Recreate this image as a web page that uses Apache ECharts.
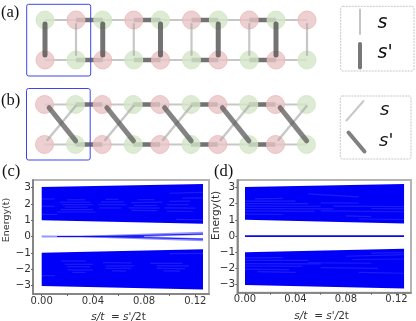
<!DOCTYPE html>
<html><head><meta charset="utf-8">
<style>html,body{margin:0;padding:0;background:#fff}#c{width:416px;height:321px}#c canvas{filter:blur(.4px)}</style>
<script src="https://cdn.jsdelivr.net/npm/echarts@6/dist/echarts.min.js"></script>
</head><body><div id="c"></div>
<script>
// ---- lattice diagrams (lattice units: cell index + site offset)
const cells = [0, 1, 2, 3, 4];
const siteOffset = 0.537;
const RED = '#e9c6c7', GREEN = '#d4e5c9';
const RED_EDGE = '#efb4b4', GREEN_EDGE = '#cfe6bf';
const LIGHT = 'rgba(165,165,165,0.62)', DARK = 'rgba(75,75,75,0.78)', DIAG = 'rgba(85,85,85,0.72)';
// site kinds per unit cell: [left site, right site]
const aTopKinds = ['g', 'r'], aBottomKinds = ['r', 'g'];
const bTopKinds = ['r', 'g'], bBottomKinds = ['r', 'g'];
// vertical bond ends and diagonal bond ends, read in lattice units
const vertEnds = [0.9, 0.125];
const diagDark = [[0.08, 0.92], [0.54, 0.09]];
const diagLight = [[0.05, 0.11], [0.54, 0.96]];

// ---- spectra: rows are [s/t, lower edge, upper edge]
const bandUpper = [[0, 1.0, 3.03], [0.126, 0.78, 3.22]];
const bandLower = [[0, -3.03, -1.0], [0.126, -3.24, -0.78]];
const cMidOuter = [[0, -0.06, 0.06], [0.03, -0.05, 0.05], [0.126, -0.29, 0.29]];
const cMidInnerGap = [[0.085, 0, 0], [0.126, -0.1, 0.1]];
const cMidDark = [[0.012, 0, 0.05, 0.015], [0.05, 0.015, 0.126, 0.15], [0.012, 0, 0.05, -0.015], [0.05, -0.015, 0.126, -0.16], [0.02, 0, 0.08, 0]];
const dMid = [[0, 0], [0.126, 0]];
const xTicks = [0, 0.04, 0.08, 0.12];
const xMinor = [0, 0.02, 0.04, 0.06, 0.08, 0.10, 0.12];
const yTicks = [-3, -2, -1, 0, 1, 2, 3];
// lighter streaks inside the dense bands: [x0, y0, x1, y1]
const cStreaks = [
 [0.012,1.5,0.042,1.5],[0.015,1.65,0.04,1.65],[0.018,1.8,0.036,1.8],[0.016,1.95,0.04,1.95],[0.014,2.1,0.038,2.1],[0.02,2.25,0.034,2.25],
 [0.045,1.75,0.062,1.75],[0.044,1.95,0.066,1.95],[0.046,2.1,0.064,2.12],[0.05,2.27,0.06,2.28],
 [0.07,1.6,0.09,1.58],[0.068,1.75,0.092,1.74],[0.072,1.9,0.09,1.9],[0.07,2.08,0.094,2.1],[0.075,2.25,0.088,2.26],
 [0.098,1.55,0.118,1.53],[0.096,1.75,0.12,1.74],[0.098,1.95,0.115,1.95],[0.1,2.15,0.116,2.17],[0.105,1.05,0.126,1.02],[0.1,2.65,0.126,2.7],[0.11,2.35,0.126,2.37],
 [0.0,1.35,0.012,1.35],[0.0,1.85,0.01,1.85],[0.0,2.3,0.01,2.3],
 [0.015,-1.5,0.035,-1.5],[0.018,-1.7,0.04,-1.7],[0.02,-1.85,0.038,-1.85],[0.02,-2.05,0.04,-2.05],[0.024,-2.2,0.034,-2.2],
 [0.048,-1.6,0.07,-1.62],[0.05,-1.8,0.072,-1.8],[0.05,-1.95,0.07,-1.95],[0.055,-2.1,0.066,-2.12],
 [0.085,-1.65,0.11,-1.65],[0.09,-1.8,0.115,-1.8],[0.09,-1.95,0.112,-1.97],[0.095,-2.1,0.108,-2.12],[0.1,-1.05,0.126,-1.03],[0.0,-2.4,0.01,-2.4]
];
const dStreaks = [
 [0,1.35,0.03,1.33],[0,1.55,0.055,1.52],[0,1.7,0.07,1.68],[0,1.85,0.06,1.84],[0,2.0,0.05,2.0],[0,2.15,0.04,2.16],[0.008,2.3,0.03,2.32],
 [0.05,2.6,0.09,2.42],[0.06,1.55,0.126,1.5],[0.07,1.85,0.126,1.82],[0.08,1.25,0.1,1.2],[0.09,1.05,0.126,1.02],[0.1,1.7,0.126,1.68],[0.06,2.05,0.09,2.04],
 [0,-1.35,0.03,-1.33],[0,-1.5,0.05,-1.5],[0,-1.7,0.06,-1.72],[0,-1.85,0.045,-1.87],[0,-2.05,0.035,-2.07],[0.01,-2.2,0.04,-2.24],
 [0.05,-1.65,0.1,-1.68],[0.06,-1.95,0.105,-2.0],[0.08,-1.25,0.126,-1.15],[0.085,-1.45,0.126,-1.42],[0.09,-2.25,0.126,-2.3],[0.1,-1.05,0.126,-1.02]
];

// ---- builders
const site = (c, i) => c + i * siteOffset;
function nodes(kinds, y){ const out=[]; cells.forEach(c=>kinds.forEach((k,i)=>{
  out.push({value:[site(c,i),y], itemStyle:{color:k==='r'?RED:GREEN, borderColor:k==='r'?RED_EDGE:GREEN_EDGE, borderWidth:1}});})); return out; }
function segSeries(grid, data, color, width, z, cap){
  return {type:'custom', xAxisIndex:grid, yAxisIndex:grid, data, z, clip:false, silent:true, encode:{x:[0,2],y:[1,3]},
    renderItem(p, api){ const a=api.coord([api.value(0),api.value(1)]), b=api.coord([api.value(2),api.value(3)]);
      return {type:'line', shape:{x1:a[0],y1:a[1],x2:b[0],y2:b[1]}, style:{stroke:color, lineWidth:width, lineCap:cap||'butt', fill:null}}; }};
}
function polySeries(grid, rows, color, z){
  return {type:'custom', xAxisIndex:grid, yAxisIndex:grid, data:rows, z, silent:true, clip:false, encode:{x:0,y:[1,2]},
    renderItem(p, api){ if(p.dataIndex!==0) return null;
      const pts=rows.map(r=>api.coord([r[0],r[2]])).concat(rows.slice().reverse().map(r=>api.coord([r[0],r[1]])));
      return {type:'polygon', shape:{points:pts}, style:{fill:color}}; }};
}
const lightH=[], darkH=[], lightV=[], darkV=[];
cells.forEach(c=>{ [0,1].forEach(y=>{ lightH.push([site(c,0),y,site(c,1),y]); if(c<cells.length-1) darkH.push([site(c,1),y,site(c+1,0),y]); });
  darkV.push([site(c,0),vertEnds[0],site(c,0),vertEnds[1]]); lightV.push([site(c,1),vertEnds[0],site(c,1),vertEnds[1]]); });
const dDark=cells.map(c=>[c+diagDark[0][0],diagDark[0][1],c+diagDark[1][0],diagDark[1][1]]);
const dLight=cells.map(c=>[c+diagLight[0][0],diagLight[0][1],c+diagLight[1][0],diagLight[1][1]]);

const nodeSeries=(grid,d)=>({type:'scatter',xAxisIndex:grid,yAxisIndex:grid,data:d,symbolSize:18,z:3,clip:false,silent:true});
const hiddenX={type:'value',min:0,max:4.537,show:false}, hiddenY={type:'value',min:0,max:1,show:false};
const AXC='#777', FONT='"DejaVu Sans"';
function specX(grid,min,max,padding){ return {type:'value',gridIndex:grid,min,max,
  axisLine:{show:true,onZero:false,lineStyle:{color:AXC,width:1.5}},
  axisTick:{show:true,length:2,customValues:xMinor,lineStyle:{color:'#666',width:1}},
  axisLabel:{customValues:xTicks,color:'#333',fontFamily:FONT,fontSize:10,margin:2,formatter:v=>v.toFixed(2),hideOverlap:false,showMinLabel:true,showMaxLabel:true},
  splitLine:{show:false},
  name:"{i|s/t}  = {i|s'/}{n|2t}",nameLocation:'middle',nameGap:18,nameMoveOverlap:false,
  nameTextStyle:{padding,rich:{i:{fontFamily:FONT,fontStyle:'italic',fontSize:10.5,color:'#333'},n:{fontFamily:FONT,fontSize:10.5,color:'#333'}},fontFamily:FONT,fontSize:10.5,color:'#333'}}; }
function specY(grid,min,max,fs,pad,gap){ return {type:'value',gridIndex:grid,min,max,
  axisLine:{show:true,onZero:false,lineStyle:{color:AXC,width:1.5}},
  axisTick:{show:true,length:2,customValues:yTicks,lineStyle:{color:'#666',width:1}},
  axisLabel:{customValues:yTicks,color:'#333',fontFamily:FONT,fontSize:10.5,margin:2,formatter:v=>v<0?'\u2212'+(-v):''+v},
  splitLine:{show:false},
  name:'Energy(t)',nameLocation:'middle',nameRotate:90,nameGap:gap,nameMoveOverlap:false,
  nameTextStyle:{fontFamily:FONT,fontSize:fs,color:'#333',padding:pad}}; }

const panelLabel=(t,x,y)=>({type:'text',x,y,style:{text:t,fontFamily:'"Liberation Serif"',fontSize:16.5,fill:'#111',textVerticalAlign:'middle'}});
const sym=(t,x,y,fs)=>({type:'text',x,y,style:{text:t,fontFamily:FONT,fontStyle:'italic',fontSize:fs,fill:'#111',textVerticalAlign:'middle'}});
const frame=(x,y,w,h)=>({type:'rect',shape:{x,y,width:w,height:h,r:2},style:{fill:null,stroke:'#3b46ee',lineWidth:1},z:20});
const box=(x,y,w,h)=>({type:'rect',shape:{x,y,width:w,height:h,r:2},style:{fill:null,stroke:'#c6c6c6',lineWidth:1,lineDash:[2,1]},z:20});
const key=(x1,y1,x2,y2,c,w)=>({type:'line',shape:{x1,y1,x2,y2},style:{stroke:c,lineWidth:w,lineCap:'round'},z:20});

const C={left:33,top:180,width:176,height:114}, D={left:237.3,top:180,width:173.7,height:112.7};
const GB={outerBoundsMode:'none'};
const option={animation:false,backgroundColor:'#fff',
 grid:[Object.assign({left:45,top:20,width:262,height:40},GB),Object.assign({left:44.5,top:104.5,width:262,height:40},GB),
       Object.assign({},C,GB,{borderColor:'#b4b4b4',borderWidth:2,show:true}),Object.assign({},D,GB,{borderColor:'#b4b4b4',borderWidth:2,show:true})],
 xAxis:[Object.assign({gridIndex:0},hiddenX),Object.assign({gridIndex:1},hiddenX),specX(2,-0.0068,0.1307,[0,5,0,0]),specX(3,-0.0061,0.1315,[0,5,0,0])],
 yAxis:[Object.assign({gridIndex:0},hiddenY),Object.assign({gridIndex:1},hiddenY),specY(2,-3.52,3.46,9.5,[0,0,0,34],21),specY(3,-3.5,3.46,10.5,[0,0,0,42],16)],
 series:[
  segSeries(0,lightH,LIGHT,2,1),segSeries(0,darkH,DARK,4.5,1),
  nodeSeries(0,nodes(aTopKinds,1).concat(nodes(aBottomKinds,0))),
  segSeries(0,lightV,LIGHT,2.2,4,'round'),segSeries(0,darkV,DARK,5,4,'round'),
  segSeries(1,lightH,LIGHT,2,1),segSeries(1,darkH,DARK,4.5,1),
  nodeSeries(1,nodes(bTopKinds,1).concat(nodes(bBottomKinds,0))),
  segSeries(1,dLight,LIGHT,2.4,4,'round'),segSeries(1,dDark,DIAG,5,4,'round'),
  polySeries(2,bandUpper,'#0000f8',2),polySeries(2,bandLower,'#0000f8',2),
  segSeries(2,cStreaks,'rgba(110,110,255,0.26)',1.2,3),
  polySeries(2,cMidOuter,'#9494ff',2),polySeries(2,cMidInnerGap,'#ffffff',3),
  segSeries(2,cMidDark,'rgba(10,10,240,0.85)',1,4),
  polySeries(3,bandUpper,'#0000f8',2),polySeries(3,bandLower,'#0000f8',2),
  segSeries(3,dStreaks,'rgba(110,110,255,0.26)',1.2,3),
  {type:'line',xAxisIndex:3,yAxisIndex:3,data:dMid,showSymbol:false,z:4,silent:true,lineStyle:{color:'#0808f0',width:1.8}}
 ],
 graphic:{elements:[
  panelLabel('(a)',1,13),panelLabel('(b)',1,101),panelLabel('(c)',2,172),panelLabel('(d)',214,172),
  frame(26.7,4.3,64,71.7),frame(26.5,88.5,63.7,71.5),
  box(340.7,6.3,73.3,64.7),box(340.3,96,70.7,63),
  key(360,9.5,360,34,'#c4c4c4',2),key(360,44,360,67.5,'#777',4),
  key(346.5,120.5,363.5,101,'#c8c8c8',2),key(348.5,132.5,364.5,151.5,'#808080',4),
  sym('s',377.5,23,19),sym("s'",377.5,53,19),sym('s',380,110,18),sym("s'",379,141,18)
 ]}
};
echarts.init(document.getElementById('c')).setOption(option);
</script></body></html>
